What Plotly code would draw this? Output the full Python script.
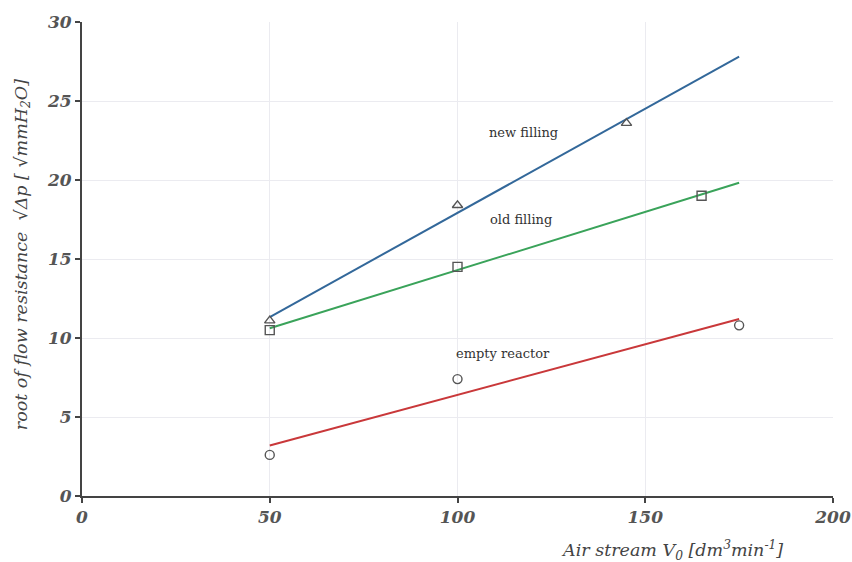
import numpy as np
import plotly.graph_objects as go

# data
new_x = [50, 100, 145]
new_y = [11.1, 18.4, 23.6]
old_x = [50, 100, 165]
old_y = [10.5, 14.5, 19.0]
empty_x = [50, 100, 175]
empty_y = [2.6, 7.4, 10.8]
fit_range = [50, 175]
x_ticks = [0, 50, 100, 150, 200]
y_ticks = [0, 5, 10, 15, 20, 25, 30]

series = [
    ("new filling", new_x, new_y, "#33689a", "triangle-up-open"),
    ("old filling", old_x, old_y, "#3aa35a", "square-open"),
    ("empty reactor", empty_x, empty_y, "#c9383a", "circle-open"),
]

fig = go.Figure()
for name, xs, ys, col, sym in series:
    k, b = np.polyfit(xs, ys, 1)
    fx = np.array(fit_range, dtype=float)
    fig.add_trace(go.Scatter(x=fx, y=k * fx + b, mode="lines",
                             line=dict(color=col, width=2), showlegend=False,
                             hoverinfo="skip"))
for name, xs, ys, col, sym in series:
    fig.add_trace(go.Scatter(x=xs, y=ys, mode="markers", name=name,
                             marker=dict(symbol=sym, size=9, color="#555555",
                                         line=dict(width=1.4, color="#555555")),
                             showlegend=False))

tickfont = dict(family="DejaVu Serif", size=17, color="#555555",
                weight="bold", style="italic")
axis_common = dict(showgrid=True, gridcolor="#ebebf0", gridwidth=1,
                   zeroline=False, showline=True, linecolor="#444444",
                   linewidth=2, ticks="outside", ticklen=5,
                   tickcolor="#444444", tickwidth=2, tickfont=tickfont,
                   automargin=False)
fig.update_layout(
    width=852, height=562,
    margin=dict(l=82, r=19, t=22, b=66),
    plot_bgcolor="white", paper_bgcolor="white",
    xaxis=dict(range=[0, 200], tickvals=x_ticks, **axis_common),
    yaxis=dict(range=[0, 30], tickvals=y_ticks, **axis_common),
    font=dict(family="DejaVu Serif"),
)

lab_font = dict(family="DejaVu Serif", size=13, color="#333333")
fig.add_annotation(x=117.5, y=23.0, text="new filling", showarrow=False, font=lab_font)
fig.add_annotation(x=117, y=17.5, text="old filling", showarrow=False, font=lab_font)
fig.add_annotation(x=112, y=9.0, text="empty reactor", showarrow=False, font=lab_font)

title_font = dict(family="DejaVu Serif", size=17.5, color="#444444", style="italic")
fig.add_annotation(xref="paper", yref="paper", x=-0.080, y=0.51,
                   xanchor="center", yanchor="middle",
                   text="root of flow resistance  √Δp [ √mmH<sub>2</sub>O]",
                   textangle=-90, showarrow=False, font=title_font)
fig.add_annotation(xref="paper", yref="paper", x=0.786, y=-0.114,
                   xanchor="center", yanchor="middle",
                   text="Air stream V<sub>0</sub> [dm<sup>3</sup>min<sup>-1</sup>]",
                   showarrow=False, font=title_font)

fig.write_html("out.html",
               config={"displayModeBar": False},
               post_script="document.body.style.margin='0px';"
                           "document.body.style.overflow='hidden';")
